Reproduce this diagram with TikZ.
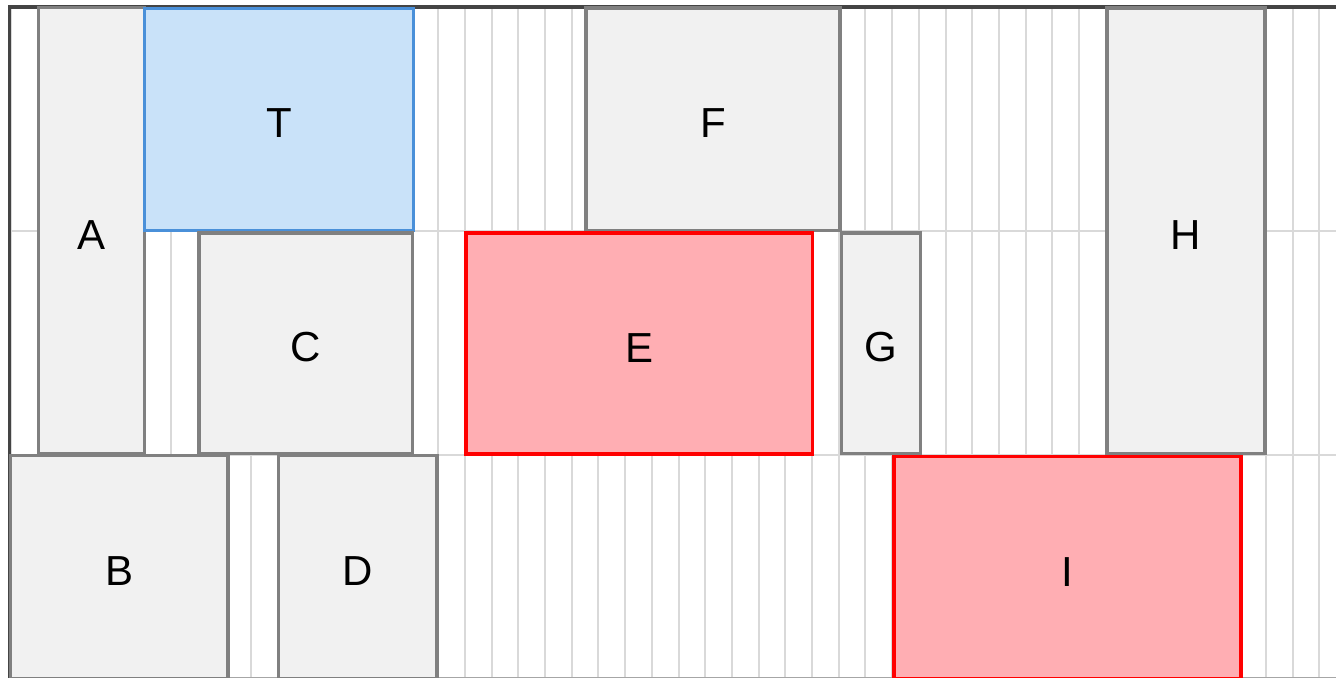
\documentclass[tikz,border=0pt]{standalone}
\usepackage{fontspec}
\setsansfont{Liberation Sans}

\definecolor{cellfill}{HTML}{F1F1F1}
\definecolor{celldraw}{HTML}{808080}
\definecolor{tfill}{HTML}{C9E2F9}
\definecolor{tdraw}{HTML}{4A90D9}
\definecolor{hotfill}{HTML}{FFAEB3}
\definecolor{hotdraw}{HTML}{FF0000}
\definecolor{gridcol}{HTML}{D9D9D9}
\definecolor{framecol}{HTML}{444444}

\tikzset{
  blk/.style={draw=celldraw, fill=cellfill, line width=1.6pt, inner sep=0pt,
    font=\sffamily\fontsize{21}{25}\selectfont, text height=18.5pt, text depth=0pt},
  blkT/.style={blk, draw=tdraw, fill=tfill},
  blkhot/.style={blk, draw=hotdraw, fill=hotfill},
  sz/.style 2 args={minimum width=#1*0.5pt, minimum height=#2*0.5pt},
  gridln/.style={draw=gridcol, line width=1pt}
}

\begin{document}
\begin{tikzpicture}[x=0.5pt, y=-0.5pt]
    \clip (0,0) rectangle (1336,678);
    \fill[white] (0,0) rectangle (1336,678);

    % Column guides
    \foreach \k in {0,...,49}
        \draw[gridln] ({11+26.7*\k},7) -- ({11+26.7*\k},677);

    % Row guides
    \draw[gridln] (9,231) -- (1336,231);
    \draw[gridln] (9,454.5) -- (1336,454.5);

    % Frame
    \draw[framecol, line width=1.6pt] (9.5,678) -- (9.5,7) -- (1336,7);
    \draw[celldraw!70, line width=0.75pt] (9,677.5) -- (1336,677.5);

    % Top row
    \node[blk, sz={106}{446.5}] (A) at (91.5,230.75) {A};
    \node[blkT, sz={269}{222}] (T) at (279,119.5) {T};
    \node[blk, sz={254}{222.5}] (F) at (713,119.25) {F};
    \node[blk, sz={158}{445.5}] (H) at (1186,230.75) {H};

    % Middle row
    \node[blk, sz={213.5}{220.5}] (C) at (305.75,343.25) {C};
    \node[blkhot, sz={346.5}{221}] (E) at (639.25,343.5) {E};
    \node[blk, sz={79}{220.5}] (G) at (881,343.25) {G};

    % Bottom row
    \node[blk, sz={217.5}{223}] (B) at (119.25,567) {B};
    \node[blk, sz={158.5}{223}] (D) at (357.75,567) {D};
    \node[blkhot, sz={347}{222.5}] (I) at (1067.5,567.75) {I};
\end{tikzpicture}
\end{document}
